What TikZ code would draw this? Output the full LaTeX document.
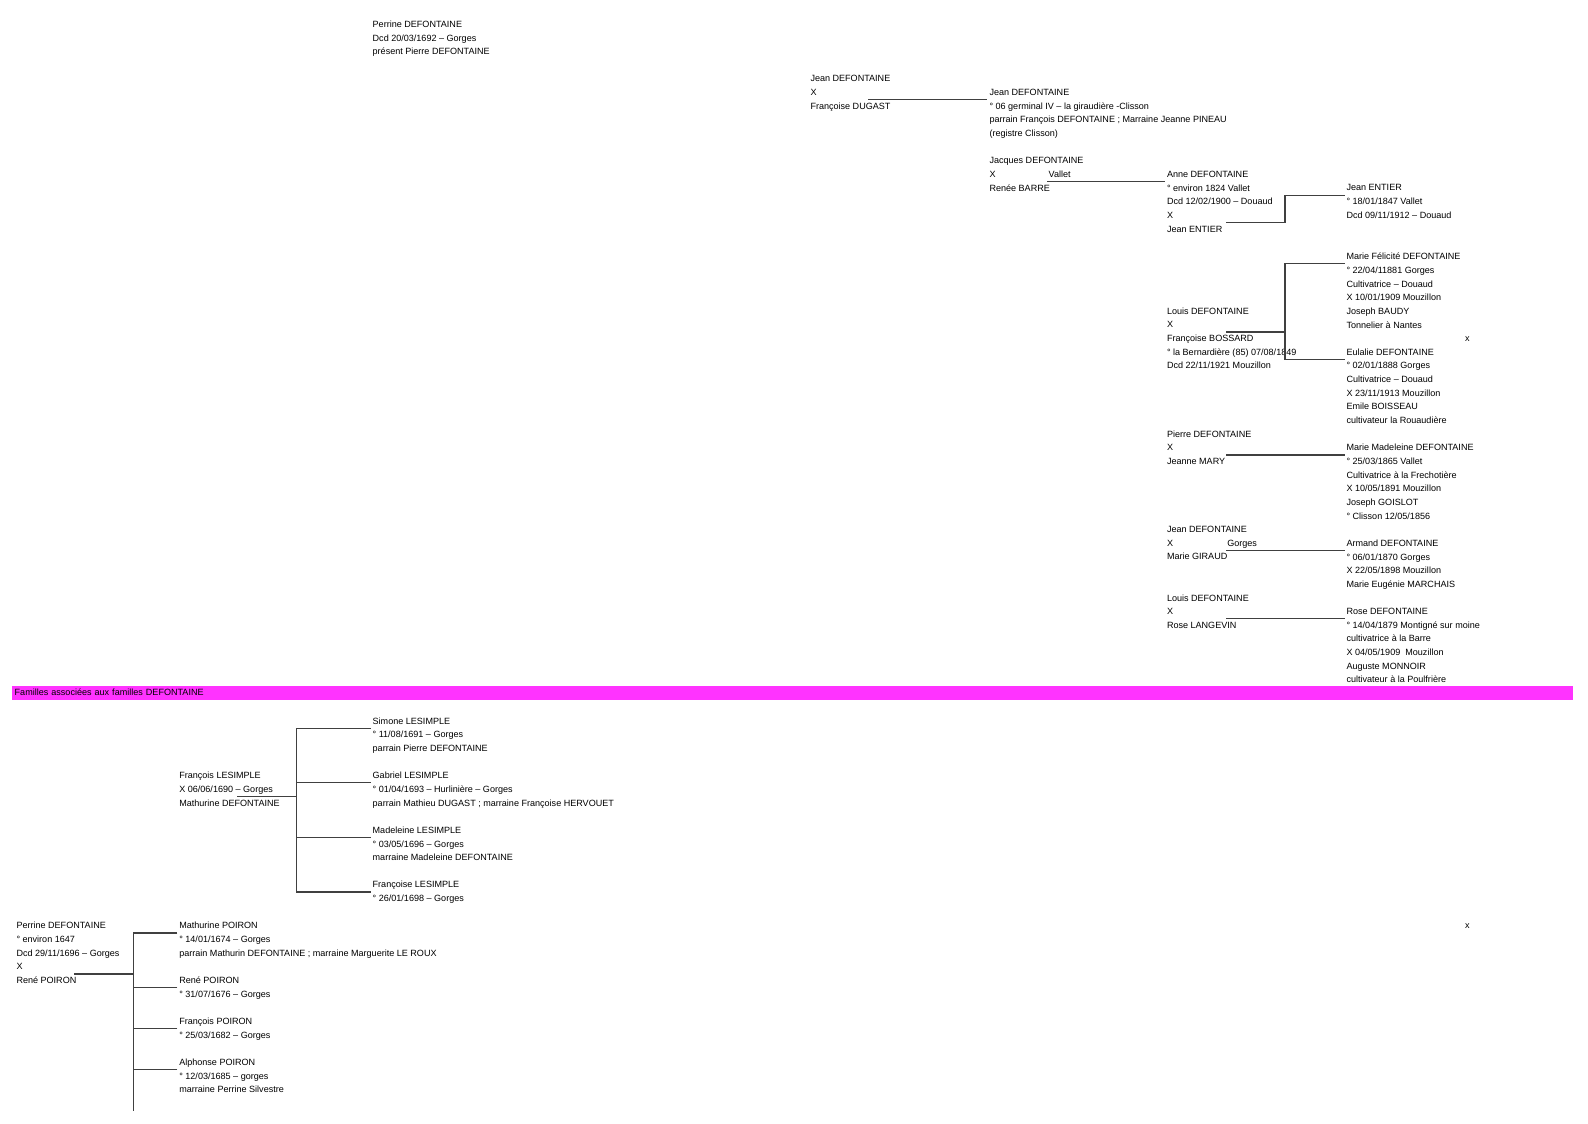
\documentclass[tikz,border=0pt]{standalone}
\usepackage{fontspec}
\setmainfont{Liberation Sans}
\usetikzlibrary{calc}
\definecolor{bandpink}{HTML}{FF33FF}

\begin{document}
\begin{tikzpicture}[
    x=1pt, y=-13.66pt,
    font=\fontsize{9.05}{13.66}\selectfont,
    person/.style={anchor=north west, inner sep=0pt, outer xsep=0pt, outer ysep=3pt, align=left, execute at begin node=\strut},
    tag/.style={person, yshift=3pt},
    link/.style={draw=black!75, line width=1.2pt},
    band/.style={anchor=north west, fill=bandpink, inner xsep=2.5pt, inner ysep=0pt, yshift=1pt, text width=1556pt, align=left, execute at begin node=\strut}
  ]
    \useasboundingbox (0,-1.306) rectangle (1588,80.906);

    \node[person] (perrine) at (372.7,0) {Perrine DEFONTAINE\\Dcd 20/03/1692 – Gorges\\présent Pierre DEFONTAINE};
    \node[person] (jean) at (810.5,4) {Jean DEFONTAINE\\X\\Françoise DUGAST};
    \node[person] (jeanfils) at (989.5,5) {Jean DEFONTAINE\\° 06 germinal IV – la giraudière -Clisson\\parrain François DEFONTAINE ; Marraine Jeanne PINEAU\\(registre Clisson)};
    \node[person] (jacques) at (989.5,10) {Jacques DEFONTAINE\\X\\Renée BARRE};
    \node[tag] (vallet) at (1048.7,11) {Vallet};
    \node[person] (anne) at (1167,11) {Anne DEFONTAINE\\° environ 1824 Vallet\\Dcd 12/02/1900 – Douaud\\X\\Jean ENTIER};
    \node[person] (entier) at (1346.5,12) {Jean ENTIER\\° 18/01/1847 Vallet\\Dcd 09/11/1912 – Douaud};
    \node[person] (louis) at (1167,21) {Louis DEFONTAINE\\X\\Françoise BOSSARD\\° la Bernardière (85) 07/08/1849\\Dcd 22/11/1921 Mouzillon};
    \node[person] (felicite) at (1346.5,17) {Marie Félicité DEFONTAINE\\° 22/04/11881 Gorges\\Cultivatrice – Douaud\\X 10/01/1909 Mouzillon\\Joseph BAUDY\\Tonnelier à Nantes};
    \node[person] (eulalie) at (1346.5,24) {Eulalie DEFONTAINE\\° 02/01/1888 Gorges\\Cultivatrice – Douaud\\X 23/11/1913 Mouzillon\\Emile BOISSEAU\\cultivateur la Rouaudière};
    \node[tag] (marqueA) at (1465,23) {x};
    \node[person] (pierre) at (1167,30) {Pierre DEFONTAINE\\X\\Jeanne MARY};
    \node[person] (madeleine) at (1346.5,31) {Marie Madeleine DEFONTAINE\\° 25/03/1865 Vallet\\Cultivatrice à la Frechotière\\X 10/05/1891 Mouzillon\\Joseph GOISLOT\\° Clisson 12/05/1856};
    \node[person] (jeangiraud) at (1167,37) {Jean DEFONTAINE\\X\\Marie GIRAUD};
    \node[tag] (gorges) at (1227.3,38) {Gorges};
    \node[person] (armand) at (1346.5,38) {Armand DEFONTAINE\\° 06/01/1870 Gorges\\X 22/05/1898 Mouzillon\\Marie Eugénie MARCHAIS};
    \node[person] (louislangevin) at (1167,42) {Louis DEFONTAINE\\X\\Rose LANGEVIN};
    \node[person] (rose) at (1346.5,43) {Rose DEFONTAINE\\° 14/04/1879 Montigné sur moine\\cultivatrice à la Barre\\X 04/05/1909\ \ Mouzillon\\Auguste MONNOIR\\cultivateur à la Poulfrière};

    \node[band] (familles) at (12,49) {Familles associées aux familles DEFONTAINE};

    \node[person] (simone) at (372.7,51) {Simone LESIMPLE\\° 11/08/1691 – Gorges\\parrain Pierre DEFONTAINE};
    \node[person] (francois) at (179.3,55) {François LESIMPLE\\X 06/06/1690 – Gorges\\Mathurine DEFONTAINE};
    \node[person] (gabriel) at (372.7,55) {Gabriel LESIMPLE\\° 01/04/1693 – Hurlinière – Gorges\\parrain Mathieu DUGAST ; marraine Françoise HERVOUET};
    \node[person] (madlesimple) at (372.7,59) {Madeleine LESIMPLE\\° 03/05/1696 – Gorges\\marraine Madeleine DEFONTAINE};
    \node[person] (francoise) at (372.7,63) {Françoise LESIMPLE\\° 26/01/1698 – Gorges};

    \node[person] (perrine2) at (16.5,66) {Perrine DEFONTAINE\\° environ 1647\\Dcd 29/11/1696 – Gorges\\X\\René POIRON};
    \node[tag] (marqueB) at (1465,66) {x};
    \node[person] (mathurine) at (179.3,66) {Mathurine POIRON\\° 14/01/1674 – Gorges\\parrain Mathurin DEFONTAINE ; marraine Marguerite LE ROUX};
    \node[person] (rene) at (179.3,70) {René POIRON\\° 31/07/1676 – Gorges};
    \node[person] (fpoiron) at (179.3,73) {François POIRON\\° 25/03/1682 – Gorges};
    \node[person] (alphonse) at (179.3,76) {Alphonse POIRON\\° 12/03/1685 – gorges\\marraine Perrine Silvestre};
    \coordinate (suite) at (133.3,80);

    \draw[link] ($(jean.north west)+(57.5,2)$) -- ($(jeanfils.north west)+(-2.5,1)$);
    \draw[link] ($(jacques.north west)+(57.5,2)$) -- ($(anne.north west)+(-2,1)$);
    \draw[link] ($(anne.north west)+(59,4)$) -- ++(59,0) |- ($(entier.north west)+(-2,1)$);
    \draw[link] ($(louis.north west)+(59,2)$) -- ++(59,0);
    \draw[link] ($(felicite.north west)+(-2,1)$) -| ($(eulalie.north west)+(-61.5,1)$) -- ++(59.5,0);
    \foreach \a/\b in {pierre/madeleine, jeangiraud/armand, louislangevin/rose}
      \draw[link] ($(\a.north west)+(59,2)$) -- ($(\b.north west)+(-2,1)$);

    \draw[link] ($(francois.north west)+(57.7,2)$) -- ++(59.4,0);
    \draw[link] ($(simone.north west)+(-2,1)$) -| ($(francoise.north west)+(-76,1)$) -- ++(74,0);
    \foreach \c in {gabriel, madlesimple}
      \draw[link] ($(\c.north west)+(-2,1)$) -- ++(-74,0);

    \draw[link] ($(perrine2.north west)+(57.5,4)$) -- ++(59.3,0);
    \draw[link] ($(mathurine.north west)+(-2,1)$) -| (suite);
    \foreach \c in {rene, fpoiron, alphonse}
      \draw[link] ($(\c.north west)+(-2,1)$) -- ++(-44,0);
  \end{tikzpicture}
\end{document}
